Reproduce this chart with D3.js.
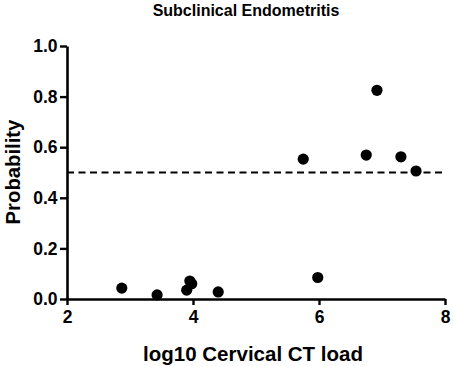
<!DOCTYPE html>
<html><head><meta charset="utf-8">
<script src="https://cdn.jsdelivr.net/npm/d3@7"></script>
<style>body{margin:0;background:#fff}svg{display:block}</style>
</head><body>
<svg id="c" width="453" height="366"></svg>
<script>
const title = "Subclinical Endometritis";
const xLabel = "log10 Cervical CT load";
const yLabel = "Probability";
const xValues = [2.87, 3.43, 3.95, 3.98, 3.90, 4.40, 5.98, 5.75, 6.75, 6.92, 7.30, 7.54];
const yValues = [0.043, 0.016, 0.071, 0.060, 0.035, 0.028, 0.085, 0.553, 0.569, 0.825, 0.562, 0.506];
const xTicks = [2, 4, 6, 8];
const yTicks = [0, 0.2, 0.4, 0.6, 0.8, 1.0];
const threshold = 0.5;

const svg = d3.select("#c");
const x = d3.scaleLinear().domain([2, 8]).range([67, 445]);
const y = d3.scaleLinear().domain([0, 1]).range([299, 46]);
const font = "'Liberation Sans', Arial, sans-serif";

const gx = svg.append("g").attr("transform", `translate(0,${y(0)})`)
  .call(d3.axisBottom(x).tickValues(xTicks).tickFormat(d3.format("d")).tickSizeOuter(0).tickSizeInner(6).tickPadding(6));
const gy = svg.append("g").attr("transform", `translate(${x(2)},0)`)
  .call(d3.axisLeft(y).tickValues(yTicks).tickFormat(d3.format(".1f")).tickSizeOuter(0).tickSizeInner(7).tickPadding(2.5));
[gx, gy].forEach(g => {
  g.selectAll("path.domain").attr("stroke", "#000").attr("stroke-width", 2.6);
  g.selectAll(".tick line").attr("stroke", "#000").attr("stroke-width", 2.4);
  g.selectAll(".tick text").attr("fill", "#000").style("font-family", font)
    .style("font-weight", "bold").style("font-size", "17.5px");
});

svg.append("line")
  .attr("x1", x(2)).attr("x2", x(8)).attr("y1", y(threshold)).attr("y2", y(threshold))
  .attr("stroke", "#000").attr("stroke-width", 2).attr("stroke-dasharray", "7,4.5");

svg.append("g").selectAll("circle").data(xValues.map((v, i) => [v, yValues[i]]))
  .join("circle").attr("cx", d => x(d[0])).attr("cy", d => y(d[1])).attr("r", 5.6).attr("fill", "#000");

svg.append("text").attr("x", 246).attr("y", 16).attr("text-anchor", "middle")
  .style("font-family", font).style("font-weight", "bold").style("font-size", "16px").text(title);
svg.append("text").attr("x", 253).attr("y", 361).attr("text-anchor", "middle")
  .style("font-family", font).style("font-weight", "bold").style("font-size", "20.5px").text(xLabel);
svg.append("text").attr("transform", "translate(20,172) rotate(-90)").attr("text-anchor", "middle")
  .style("font-family", font).style("font-weight", "bold").style("font-size", "20.3px").text(yLabel);
</script>
</body></html>
